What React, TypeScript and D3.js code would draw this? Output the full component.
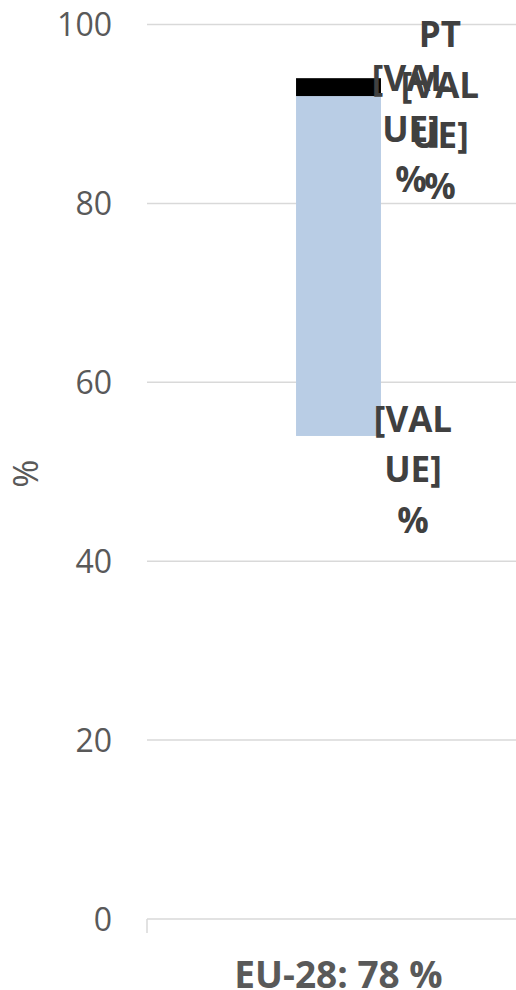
import React, { useEffect, useRef } from 'react';
import * as d3 from 'd3';

// chart data
const categories = ['EU-28: 78 %'];
const baseValues = [54];      // invisible offset segment
const blueValues = [38];      // light blue segment
const blackValues = [2];      // black segment
const yTicks = [0, 20, 40, 60, 80, 100];
const baseLabel = ['[VAL', 'UE]', '%'];
const blueLabel = ['[VAL', 'UE]', '%'];
const blackLabel = ['PT', '[VAL', 'UE]', '%'];

const W = 516;
const H = 990;

function App() {
  const svgRef = useRef<SVGSVGElement>(null);

  useEffect(() => {
    const svg = d3.select(svgRef.current);
    svg.selectAll('*').remove();

    const left = 147;
    const right = 530;
    const font = "'Open Sans', 'Noto Sans', sans-serif";

    const y = d3.scaleLinear().domain([0, 100]).range([919, 24.5]);
    const x = d3.scaleBand().domain(categories).range([left, right]).padding(0.637);

    // gridlines
    svg.append('g')
      .selectAll('line')
      .data(yTicks)
      .enter()
      .append('line')
      .attr('x1', left)
      .attr('x2', W)
      .attr('y1', d => y(d))
      .attr('y2', d => y(d))
      .attr('stroke', '#d9d9d9')
      .attr('stroke-width', 1.5);

    // tick at left end of category axis
    svg.append('line')
      .attr('x1', left).attr('x2', left)
      .attr('y1', y(0)).attr('y2', y(0) + 14)
      .attr('stroke', '#d9d9d9')
      .attr('stroke-width', 1.5);

    // y tick labels
    svg.append('g')
      .selectAll('text')
      .data(yTicks)
      .enter()
      .append('text')
      .attr('x', 112)
      .attr('y', d => y(d))
      .attr('dy', '0.36em')
      .attr('text-anchor', 'end')
      .attr('font-family', font)
      .attr('font-size', 32)
      .attr('fill', '#595959')
      .text(d => d);

    // y axis title
    svg.append('text')
      .attr('transform', `translate(26,${(y(0) + y(100)) / 2 + 2}) rotate(-90)`)
      .attr('dy', '0.36em')
      .attr('text-anchor', 'middle')
      .attr('font-family', font)
      .attr('font-size', 34)
      .attr('fill', '#595959')
      .text('%');

    // stacked bars
    categories.forEach((c, i) => {
      const bx = x(c) as number;
      const bw = x.bandwidth();
      const b0 = baseValues[i];
      const b1 = b0 + blueValues[i];
      const b2 = b1 + blackValues[i];

      svg.append('rect')
        .attr('x', bx).attr('width', bw)
        .attr('y', y(b1)).attr('height', y(b0) - y(b1))
        .attr('fill', '#b9cde5');

      svg.append('rect')
        .attr('x', bx).attr('width', bw)
        .attr('y', y(b2)).attr('height', y(b1) - y(b2))
        .attr('fill', '#000000');

      const lineH = 50.5;
      const drawLabel = (lines: string[], cx: number, firstBaseline: number) => {
        const t = svg.append('text')
          .attr('text-anchor', 'middle')
          .attr('font-family', font)
          .attr('font-weight', 'bold')
          .attr('font-size', 35)
          .attr('fill', '#404040');
        lines.forEach((ln, k) => {
          t.append('tspan')
            .attr('x', cx)
            .attr('y', firstBaseline + k * lineH)
            .text(ln);
        });
      };

      drawLabel(baseLabel, bx + bw + 32, y(b0) - 4);
      drawLabel(blueLabel, bx + bw + 30, y(b1) - 5);
      drawLabel(blackLabel, bx + bw + 59, y(b2) - 31);

      // category label
      svg.append('text')
        .attr('x', bx + bw / 2)
        .attr('y', 988)
        .attr('text-anchor', 'middle')
        .attr('font-family', font)
        .attr('font-weight', 'bold')
        .attr('font-size', 37)
        .attr('fill', '#595959')
        .text(c);
    });
  }, []);

  return (
    <svg
      ref={svgRef}
      width={W}
      height={H}
      style={{ position: 'absolute', left: 0, top: 0, background: '#fff' }}
    />
  );
}

export default App;
